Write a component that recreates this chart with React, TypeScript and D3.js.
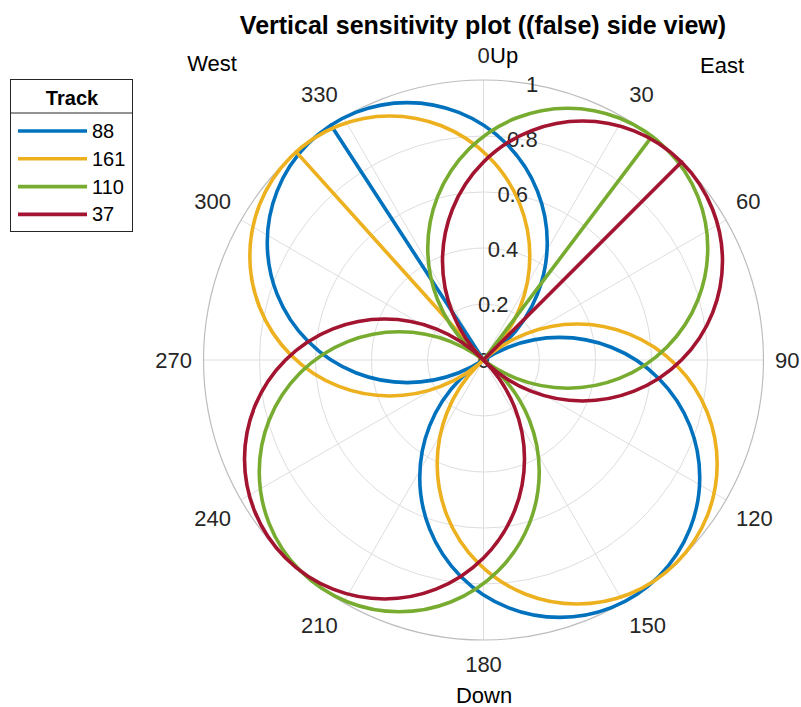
import React from "react";
import * as d3 from "d3";

// ---- data ----
const tracks = ["88", "161", "110", "37"];
const peakDirection = [327, 318, 37, 45]; // degrees (clockwise from Up) where sensitivity = 1
const peakValue = [1, 1, 1, 1];
const trackColors = ["#0072BD", "#EDB120", "#77AC30", "#A2142F"];
const thetaTicks = [0, 30, 60, 90, 120, 150, 180, 210, 240, 270, 300, 330];
const rTicks = [0, 0.2, 0.4, 0.6, 0.8, 1];
const rTickLabels = ["0", "0.2", "0.4", "0.6", "0.8", "1"];
const titleText = "Vertical sensitivity plot ((false) side view)";
const legendTitle = "Track";

const W = 801;
const H = 707;
const cx = 483.5;
const cy = 360;
const R = 280;
const FONT = "'Liberation Sans', Arial, Helvetica, sans-serif";
const TEXT = "#262626";

const rScale = d3.scaleLinear().domain([0, 1]).range([0, R]);
const aScale = d3.scaleLinear().domain([0, 360]).range([0, 2 * Math.PI]);

function pt(deg: number, r: number): [number, number] {
  const a = aScale(deg);
  const rr = rScale(r);
  return [cx + rr * Math.sin(a), cy - rr * Math.cos(a)];
}

function sgn(v: number): number {
  return Math.abs(v) < 1e-6 ? 0 : Math.sign(v);
}

export default function App() {
  const labelFs = 22;
  const gridColor = "#dedede";
  return (
    <svg
      width={W}
      height={H}
      style={{ position: "absolute", left: 0, top: 0, background: "#fff" }}
      fontFamily={FONT}
    >
      {/* grid circles */}
      {rTicks.slice(1, -1).map((t) => (
        <circle key={"c" + t} cx={cx} cy={cy} r={rScale(t)} fill="none" stroke={gridColor} strokeWidth={1} />
      ))}
      {/* radial spokes */}
      {thetaTicks.map((t) => {
        const [x, y] = pt(t, 1);
        return <line key={"s" + t} x1={cx} y1={cy} x2={x} y2={y} stroke={gridColor} strokeWidth={1} />;
      })}
      {/* outer circle */}
      <circle cx={cx} cy={cy} r={rScale(1)} fill="none" stroke="#bdbdbd" strokeWidth={1.2} />

      {/* theta tick labels */}
      {thetaTicks.map((t) => {
        const a = aScale(t);
        const s = Math.sin(a);
        const c = Math.cos(a);
        const label = String(t);
        const hw = label.length * 0.556 * labelFs * 0.5;
        const hh = 13;
        const base = R + 11.5;
        return (
          <text
            key={"tl" + t}
            x={cx + base * s + sgn(s) * hw}
            y={cy - base * c - sgn(c) * hh}
            textAnchor="middle"
            dominantBaseline="central"
            fontSize={labelFs}
            fill={TEXT}
          >
            {label}
          </text>
        );
      })}

      {/* r tick labels */}
      {rTicks.map((t, i) => {
        const [x, y] = pt(10, t);
        return (
          <text key={"rl" + t} x={x} y={y} textAnchor="middle" dominantBaseline="central" fontSize={labelFs} fill={TEXT}>
            {rTickLabels[i]}
          </text>
        );
      })}

      {/* data: each sensitivity pattern is two circular lobes through the origin, plus a direction line */}
      {tracks.map((tr, i) => {
        const phi = peakDirection[i];
        const v = peakValue[i];
        const [ax, ay] = pt(phi, v / 2);
        const [bx, by] = pt(phi + 180, v / 2);
        const [px, py] = pt(phi, v);
        const col = trackColors[i];
        return (
          <g key={"tr" + tr} fill="none" stroke={col} strokeWidth={3.6}>
            <circle cx={ax} cy={ay} r={rScale(v / 2)} />
            <circle cx={bx} cy={by} r={rScale(v / 2)} />
            <line x1={cx} y1={cy} x2={px} y2={py} strokeLinecap="round" />
          </g>
        );
      })}

      {/* direction labels */}
      <text x={490} y={55} fontSize={labelFs} fill="#000" dominantBaseline="central">Up</text>
      <text x={212} y={63} fontSize={labelFs} fill="#000" textAnchor="middle" dominantBaseline="central">West</text>
      <text x={722} y={65} fontSize={labelFs} fill="#000" textAnchor="middle" dominantBaseline="central">East</text>
      <text x={484} y={695} fontSize={labelFs} fill="#000" textAnchor="middle" dominantBaseline="central">Down</text>

      {/* title */}
      <text x={483} y={25} fontSize={25} fontWeight="bold" fill="#000" textAnchor="middle" dominantBaseline="central">
        {titleText}
      </text>

      {/* legend */}
      <g>
        <rect x={10.5} y={79.5} width={122} height={152} fill="#fff" stroke="#262626" strokeWidth={1} />
        <line x1={10.5} x2={132.5} y1={113} y2={113} stroke="#262626" strokeWidth={1} />
        <text x={72} y={98} fontSize={20} fontWeight="bold" fill="#000" textAnchor="middle" dominantBaseline="central">
          {legendTitle}
        </text>
        {tracks.map((tr, i) => {
          const y = 131 + i * 27.8;
          return (
            <g key={"lg" + tr}>
              <line x1={18} x2={87} y1={y} y2={y} stroke={trackColors[i]} strokeWidth={3.6} />
              <text x={92} y={y} fontSize={20} fill="#000" dominantBaseline="central">
                {tr}
              </text>
            </g>
          );
        })}
      </g>
    </svg>
  );
}
